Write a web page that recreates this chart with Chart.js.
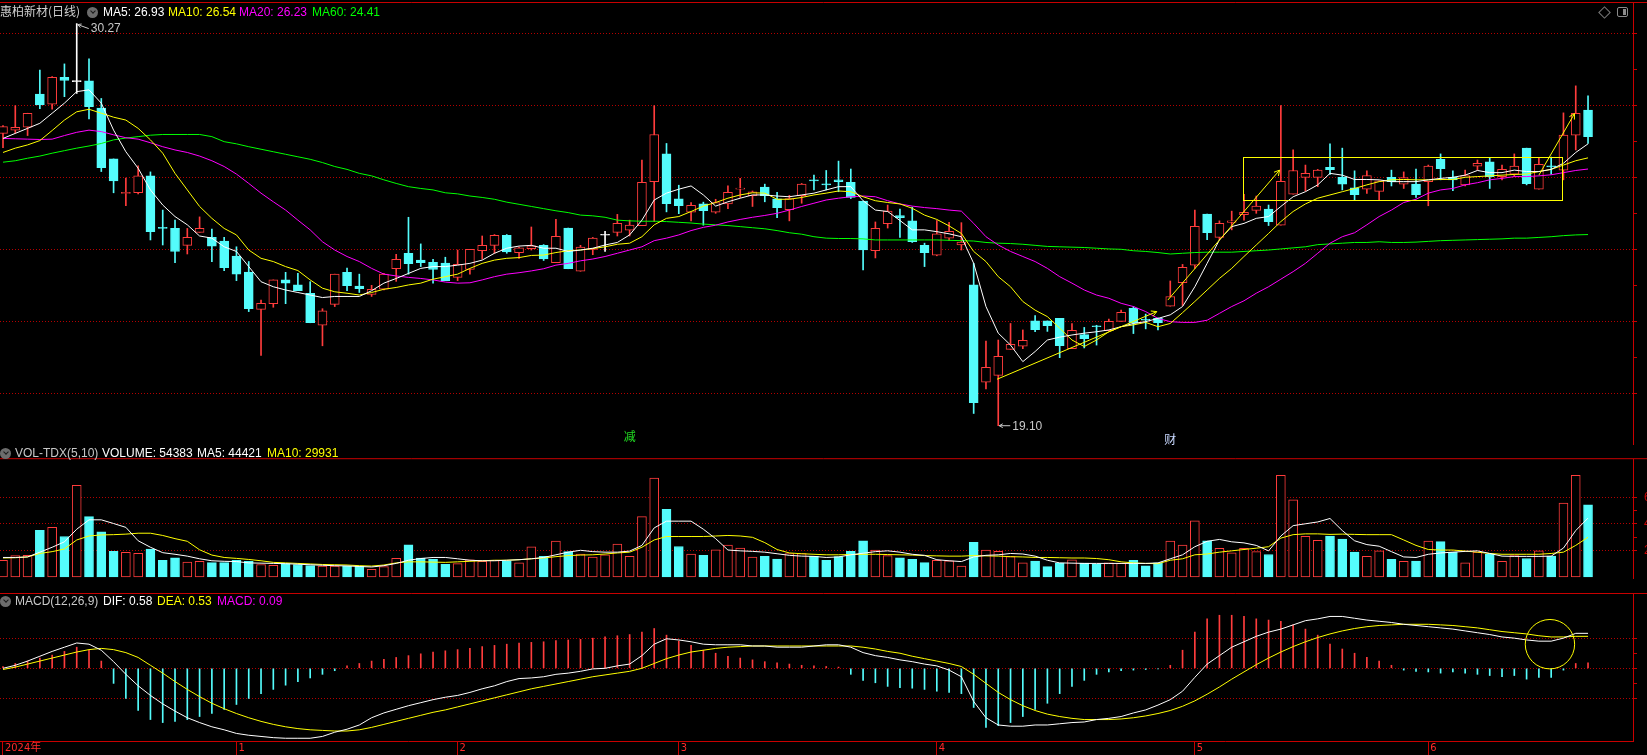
<!DOCTYPE html>
<html>
<head>
<meta charset="utf-8">
<title>惠柏新材(日线)</title>
<script src="https://cdn.jsdelivr.net/npm/chart.js@4.4.1/dist/chart.umd.min.js"></script>
<style>
  html, body { margin: 0; padding: 0; background: #000; overflow: hidden; }
  #board { position: relative; width: 1647px; height: 755px; background: #000; }
  #board canvas { position: absolute; left: 0; }
  .txt { position: absolute; font: 12px 'Liberation Sans', Arial, sans-serif; line-height: 14px; white-space: nowrap; }
  .cjk { font-family: 'Noto Sans CJK SC', 'Liberation Sans', sans-serif; }
  .ico { position: absolute; width: 11px; height: 11px; border-radius: 50%; background: #6c6c6c; }
  .ico:after { content: ''; position: absolute; left: 3.5px; top: 2px; width: 3px; height: 3px;
               border-right: 1.5px solid #1a1a1a; border-bottom: 1.5px solid #1a1a1a; transform: rotate(45deg); }
</style>
</head>
<body>
<div id="board">
  <canvas id="price" width="1647" height="445" style="top:0"></canvas>
  <canvas id="vol" width="1647" height="148" style="top:445px"></canvas>
  <canvas id="macd" width="1647" height="162" style="top:593px"></canvas>

  <div class="txt cjk" style="left:0;top:4px;color:#d0d0d0">惠柏新材(日线)</div>
  <div class="ico" style="left:87px;top:7px"></div>
  <div class="txt" id="lgMa5" style="left:103px;top:5px;color:#ffffff"></div>
  <div class="txt" id="lgMa10" style="left:168px;top:5px;color:#ffff00"></div>
  <div class="txt" id="lgMa20" style="left:239px;top:5px;color:#ff00ff"></div>
  <div class="txt" id="lgMa60" style="left:312px;top:5px;color:#00ff00"></div>
  <div style="position:absolute;left:1600px;top:8px;width:7px;height:7px;border:1px solid #7a7a7a;transform:rotate(45deg)"></div>
  <div style="position:absolute;left:1617px;top:7px;width:9px;height:8px;border:1.5px solid #8a8a8a;border-radius:2px">
    <div style="position:absolute;right:1px;top:1px;width:3px;height:6px;background:#8a8a8a"></div>
  </div>

  <div class="ico" style="left:0;top:448px"></div>
  <div class="txt" style="left:15px;top:446px;color:#c8c8c8">VOL-TDX(5,10)</div>
  <div class="txt" id="lgVol" style="left:102px;top:446px;color:#ffffff"></div>
  <div class="txt" id="lgVma5" style="left:197px;top:446px;color:#ffffff"></div>
  <div class="txt" id="lgVma10" style="left:267px;top:446px;color:#ffff00"></div>

  <div class="ico" style="left:0;top:596px"></div>
  <div class="txt" style="left:15px;top:594px;color:#c8c8c8">MACD(12,26,9)</div>
  <div class="txt" id="lgDif" style="left:103px;top:594px;color:#ffffff"></div>
  <div class="txt" id="lgDea" style="left:157px;top:594px;color:#ffff00"></div>
  <div class="txt" id="lgMacd" style="left:217px;top:594px;color:#ff00ff"></div>
</div>

<script>
// ---- daily candles ----
const opens = [
  27.22,27.31,27.39,28.31,28.03,28.78,28.66,28.68,27.92,26.51,
  25.55,25.57,26.04,24.60,24.58,24.11,24.47,24.33,24.23,23.81,
  23.37,22.33,22.49,23.15,23.01,22.78,21.89,22.47,23.36,22.98,
  22.75,22.89,23.46,23.89,23.70,23.64,23.62,23.22,23.44,23.96,
  24.11,24.39,23.91,24.02,24.11,23.63,24.59,23.39,24.00,24.39,
  24.47,24.53,24.66,25.88,26.65,25.40,25.03,25.26,25.03,25.26,
  25.67,25.49,25.73,25.40,25.10,25.49,25.92,25.80,25.93,25.86,
  25.34,23.96,24.71,24.94,24.79,24.11,23.84,24.31,24.12,23.01,
  20.31,20.50,21.22,21.31,22.01,22.01,22.08,21.24,21.63,21.87,
  21.74,22.00,22.36,22.05,22.08,22.42,23.07,23.56,24.98,24.33,
  24.75,24.96,25.08,25.12,24.67,25.53,26.00,26.00,26.28,26.00,
  25.71,25.67,25.61,26.00,25.81,25.81,25.88,26.50,26.00,25.79,
  26.31,26.43,26.02,26.09,26.81,25.67,26.31,26.20,27.17,27.87];
const highs = [
  27.44,27.99,27.78,28.98,28.80,29.15,30.27,29.29,28.19,26.51,
  25.98,26.32,26.15,25.09,24.81,24.58,24.90,24.56,24.33,24.07,
  23.66,22.59,23.15,23.36,23.33,23.10,22.35,23.31,23.48,23.31,
  23.00,23.33,23.86,24.89,24.15,23.72,23.78,23.98,24.00,24.37,
  24.41,24.41,24.06,24.62,24.13,24.83,24.59,24.11,24.33,24.50,
  24.97,24.81,26.48,27.99,26.94,25.78,25.30,25.31,25.39,25.76,
  25.97,25.62,25.81,25.58,25.50,25.83,26.06,26.19,26.45,26.23,
  25.34,24.76,25.23,25.12,25.17,24.17,24.80,24.75,24.74,23.61,
  21.45,21.48,21.94,21.76,22.16,22.01,22.08,21.94,21.83,21.89,
  22.06,22.31,22.41,22.20,22.10,23.12,23.58,25.09,24.98,24.79,
  25.06,25.53,25.48,25.23,27.99,26.76,26.34,26.22,26.93,26.81,
  26.18,26.18,25.90,26.20,26.15,26.23,26.34,26.65,26.18,26.20,
  26.48,26.54,26.34,26.65,26.81,26.54,26.56,27.79,28.54,28.26];
const lows = [
  26.82,27.22,27.16,27.91,27.89,28.24,28.33,27.62,26.16,25.57,
  25.21,25.54,24.26,24.12,23.63,23.87,24.47,23.66,23.41,23.13,
  22.27,21.05,22.39,22.49,22.85,21.96,21.32,22.41,22.85,22.80,
  22.69,22.87,23.11,23.31,23.52,23.06,23.13,23.13,23.31,23.73,
  23.89,23.89,23.75,23.98,23.69,23.63,23.46,23.39,23.85,23.94,
  24.37,24.37,24.66,24.77,25.04,24.99,24.79,24.67,25.00,25.13,
  25.44,25.19,25.32,24.88,24.79,25.28,25.65,25.65,25.60,25.41,
  23.43,23.76,24.59,24.33,24.19,23.52,23.82,24.25,23.98,19.44,
  20.12,19.10,21.22,21.24,21.71,21.72,20.99,21.24,21.26,21.34,
  21.74,22.00,21.66,21.79,21.76,22.42,22.44,23.47,24.27,24.27,
  24.54,24.81,25.00,24.66,24.67,25.53,25.62,25.74,26.08,25.65,
  25.37,25.55,25.37,25.76,25.69,25.44,25.21,25.93,25.63,25.76,
  26.20,25.69,25.93,26.02,25.79,25.67,26.09,25.93,26.76,26.94];
const closes = [
  27.41,27.39,27.78,28.01,28.78,28.69,28.66,27.96,26.27,25.90,
  25.58,26.04,24.49,24.58,23.94,24.33,24.58,24.09,23.49,23.31,
  22.35,22.50,23.15,23.06,22.85,21.96,22.29,23.31,22.99,22.91,
  22.89,23.31,23.72,23.60,23.63,23.44,23.13,23.58,24.00,24.11,
  24.39,23.93,24.04,24.10,23.73,24.36,23.46,24.06,24.31,24.39,
  24.72,24.67,25.86,27.19,25.27,25.21,25.22,25.07,25.30,25.58,
  25.70,25.60,25.49,25.16,25.41,25.81,25.90,25.79,25.88,25.44,
  23.98,24.58,25.06,24.88,24.21,23.91,24.43,24.50,24.20,19.74,
  20.72,21.03,21.36,21.47,21.77,21.88,21.32,21.75,21.52,21.85,
  22.00,22.25,21.95,22.03,21.96,22.69,23.50,24.64,24.46,24.72,
  24.79,25.03,25.20,24.77,25.89,26.19,26.11,26.20,26.21,25.81,
  25.52,26.05,25.90,25.88,25.99,25.52,26.31,26.24,25.93,26.05,
  26.39,26.02,26.22,26.31,25.82,26.36,26.29,27.17,27.78,27.13];

// moving averages as drawn
const ma5 = [
  27.08,27.22,27.36,27.50,27.78,28.06,28.38,28.43,28.06,27.31,
  26.71,26.25,25.65,25.23,24.91,24.68,24.37,24.31,24.07,23.94,
  23.52,23.10,22.96,22.87,22.80,22.73,22.66,22.69,22.69,22.69,
  22.85,23.06,23.19,23.33,23.47,23.52,23.52,23.56,23.61,23.70,
  23.89,24.03,24.09,24.11,24.03,24.03,23.94,23.98,24.03,24.12,
  24.19,24.40,24.81,25.37,25.56,25.67,25.76,25.51,25.20,25.32,
  25.42,25.51,25.51,25.48,25.46,25.51,25.56,25.65,25.74,25.74,
  25.35,25.09,25.05,24.80,24.54,24.54,24.49,24.43,24.35,23.61,
  22.41,21.67,21.34,20.88,21.16,21.48,21.56,21.62,21.67,21.71,
  21.76,21.85,21.94,21.99,22.08,22.18,22.41,22.96,23.61,24.26,
  24.63,24.72,24.86,24.91,25.19,25.46,25.60,25.79,26.11,26.06,
  25.94,25.94,25.93,25.88,25.88,25.88,25.93,25.97,26.00,26.06,
  26.19,26.13,26.13,26.20,26.16,26.16,26.22,26.39,26.69,26.93];
const ma10 = [
  26.69,26.81,26.90,27.02,27.30,27.59,27.82,27.89,27.78,27.67,
  27.59,27.36,27.04,26.67,26.11,25.65,25.19,24.86,24.58,24.40,
  23.98,23.75,23.66,23.52,23.41,23.15,22.92,22.82,22.78,22.73,
  22.80,22.89,22.94,23.01,23.06,23.17,23.24,23.31,23.47,23.61,
  23.70,23.75,23.77,23.83,23.84,23.91,23.96,23.98,24.02,24.07,
  24.14,24.17,24.35,24.68,24.86,24.91,25.05,25.20,25.30,25.42,
  25.51,25.57,25.56,25.39,25.39,25.44,25.51,25.56,25.62,25.60,
  25.46,25.35,25.30,25.26,25.14,24.95,24.83,24.65,24.44,23.94,
  23.66,23.24,22.96,22.55,22.31,22.13,21.81,21.48,21.30,21.48,
  21.71,21.85,21.90,21.97,21.85,21.94,22.24,22.55,22.87,23.19,
  23.47,23.80,24.12,24.44,24.77,25.05,25.26,25.42,25.51,25.60,
  25.69,25.79,25.88,25.93,25.94,25.93,25.93,25.94,25.94,26.00,
  26.02,26.04,26.06,26.08,26.09,26.16,26.22,26.34,26.46,26.54];
const ma20 = [
  27.08,27.07,27.06,27.05,27.06,27.16,27.25,27.31,27.27,27.18,
  27.10,27.06,26.96,26.85,26.76,26.69,26.59,26.46,26.30,26.09,
  25.83,25.56,25.32,25.09,24.81,24.54,24.21,23.98,23.80,23.66,
  23.47,23.31,23.26,23.22,23.19,23.15,23.09,23.06,23.07,23.15,
  23.24,23.31,23.35,23.40,23.46,23.56,23.61,23.68,23.73,23.80,
  23.89,23.98,24.07,24.24,24.31,24.40,24.52,24.61,24.67,24.76,
  24.83,24.89,24.94,25.00,25.09,25.19,25.28,25.37,25.42,25.46,
  25.48,25.46,25.35,25.26,25.20,25.16,25.13,25.09,25.06,24.72,
  24.35,24.12,23.94,23.80,23.66,23.47,23.24,23.06,22.87,22.73,
  22.64,22.50,22.41,22.27,22.08,21.99,21.97,21.97,22.03,22.22,
  22.41,22.57,22.78,22.96,23.17,23.38,23.61,23.89,24.17,24.35,
  24.46,24.68,24.91,25.09,25.30,25.39,25.56,25.65,25.69,25.79,
  25.85,25.93,25.97,26.02,26.02,26.04,26.07,26.13,26.19,26.23];
const ma60 = [
  26.42,26.46,26.53,26.59,26.67,26.74,26.81,26.87,26.94,27.04,
  27.09,27.13,27.17,27.19,27.19,27.19,27.19,27.13,26.99,26.93,
  26.85,26.78,26.71,26.64,26.57,26.50,26.41,26.30,26.22,26.11,
  26.04,25.93,25.83,25.74,25.69,25.65,25.57,25.54,25.48,25.44,
  25.39,25.31,25.25,25.19,25.13,25.07,25.02,24.95,24.93,24.89,
  24.81,24.79,24.78,24.78,24.77,24.75,24.73,24.70,24.68,24.66,
  24.63,24.60,24.57,24.52,24.46,24.42,24.35,24.31,24.30,24.30,
  24.29,24.26,24.26,24.26,24.26,24.26,24.26,24.25,24.24,24.23,
  24.19,24.17,24.16,24.14,24.11,24.08,24.07,24.06,24.05,24.03,
  24.01,24.00,23.96,23.94,23.91,23.87,23.89,23.91,23.92,23.92,
  23.92,23.94,23.96,23.98,24.01,24.04,24.07,24.13,24.15,24.17,
  24.19,24.19,24.21,24.19,24.19,24.20,24.22,24.24,24.25,24.26,
  24.27,24.28,24.29,24.31,24.31,24.33,24.35,24.38,24.40,24.41];

// volume (shares) and its averages
const volumes = [
  12600,16100,16300,35200,37400,30500,69100,45500,34000,19300,
  18500,17900,21100,12600,14400,11200,11800,10800,10800,12600,
  11800,9400,8800,10000,9400,8500,8200,8200,8200,8200,
  5700,7800,14100,24200,14200,13200,9600,10000,13000,11800,
  12600,12200,10600,22800,15600,27000,19100,17300,15000,16700,
  24800,15600,45500,74600,51000,23000,17300,16300,20400,24000,
  21800,15000,15600,13400,17700,17700,15600,12600,15300,19300,
  27300,20300,16100,14400,13200,10800,12600,12200,8200,26100,
  20300,19300,15300,10600,12000,7800,10400,13000,10400,9600,
  10600,10200,12600,8400,10600,27000,24000,42300,27300,21600,
  18100,21600,19100,16900,76600,58100,30700,27600,30900,28500,
  18700,15500,19700,13200,11800,12000,27000,26600,18700,10600,
  18700,17300,11800,16100,13900,19700,15700,55720,76600,54383];
const volMa5 = [
  14700,14700,15100,18700,22400,26500,36000,43100,43100,40300,
  37400,27300,22400,18300,17100,15700,13700,12200,11800,11600,
  10600,10400,10200,10000,9600,9200,8800,8500,8300,7900,
  7500,8500,10200,12600,13900,14700,14700,13700,12600,12200,
  12200,12600,13000,13700,14700,16700,18700,20100,19100,18700,
  18700,19500,23800,37000,42100,42100,42100,36000,28900,20300,
  19700,19300,18700,17500,16300,15700,15500,14700,15100,16700,
  17900,19100,19700,18700,17100,16300,13000,12200,11600,15100,
  16300,16700,17700,17300,15700,12600,10600,10400,10200,10200,
  10200,10200,10200,10200,10600,13700,16700,22800,26900,28300,
  26500,25700,23800,19700,30900,38700,40100,41500,44100,35000,
  27300,24400,23200,19100,15100,14700,17100,18100,18700,19300,
  19700,17700,15700,15500,15500,15500,15700,21800,35000,44421];
const volMa10 = [
  14300,14500,15100,17700,19100,21100,27900,30900,31700,31900,
  32300,33000,33000,31300,28900,26900,20500,16500,14700,14000,
  13200,12200,11000,10600,10200,9800,9400,9200,9000,8500,
  8200,9000,10600,11400,11400,11200,11000,11400,11800,12200,
  12600,12600,13000,13700,14300,15300,16100,16500,16700,17300,
  18100,18700,22400,27900,30500,30500,30500,30500,30900,31300,
  30900,29900,25900,20700,18100,17500,17100,16700,16700,16900,
  17100,17100,16900,16700,16500,16100,15900,15700,15700,16100,
  15900,15700,15300,15100,14700,14700,14500,14300,14300,13900,
  13000,11400,10600,10200,10000,12600,13700,16700,17300,18700,
  19700,20700,21700,22800,29300,31900,32500,32500,32100,32300,
  32100,31900,31900,31900,27900,23800,20700,20300,20300,19500,
  18700,17700,17100,17100,17100,17100,17700,18700,23800,29931];

// MACD(12,26,9)
const dif = [
  0.00,0.05,0.12,0.20,0.28,0.35,0.42,0.40,0.30,0.11,
  -0.10,-0.29,-0.45,-0.59,-0.71,-0.82,-0.90,-0.97,-1.02,-1.08,
  -1.11,-1.13,-1.15,-1.16,-1.16,-1.16,-1.13,-1.06,-1.01,-0.94,
  -0.82,-0.74,-0.68,-0.62,-0.57,-0.52,-0.48,-0.45,-0.40,-0.34,
  -0.29,-0.22,-0.17,-0.16,-0.14,-0.10,-0.08,-0.05,-0.01,0.00,
  0.04,0.07,0.21,0.40,0.49,0.47,0.44,0.40,0.39,0.39,
  0.39,0.37,0.37,0.35,0.35,0.35,0.37,0.39,0.39,0.35,
  0.26,0.21,0.18,0.14,0.11,0.07,0.04,-0.03,-0.14,-0.55,
  -0.82,-0.94,-0.96,-0.96,-0.94,-0.94,-0.92,-0.90,-0.89,-0.85,
  -0.83,-0.80,-0.74,-0.69,-0.61,-0.52,-0.38,-0.15,0.07,0.21,
  0.35,0.44,0.53,0.60,0.65,0.72,0.79,0.82,0.86,0.86,
  0.83,0.80,0.78,0.76,0.73,0.71,0.69,0.67,0.65,0.62,
  0.59,0.56,0.52,0.50,0.47,0.45,0.45,0.50,0.58,0.58];
const dea = [
  -0.02,0.02,0.07,0.12,0.17,0.22,0.27,0.31,0.33,0.31,
  0.26,0.18,0.05,-0.08,-0.22,-0.35,-0.47,-0.58,-0.67,-0.75,
  -0.82,-0.88,-0.93,-0.97,-1.00,-1.02,-1.03,-1.04,-1.04,-1.02,
  -0.98,-0.93,-0.88,-0.83,-0.78,-0.73,-0.69,-0.64,-0.59,-0.54,
  -0.49,-0.44,-0.39,-0.34,-0.30,-0.26,-0.22,-0.18,-0.14,-0.11,
  -0.08,-0.05,0.00,0.08,0.16,0.22,0.27,0.30,0.33,0.35,
  0.36,0.37,0.37,0.37,0.37,0.37,0.37,0.37,0.37,0.37,
  0.35,0.32,0.28,0.25,0.20,0.16,0.12,0.08,0.03,-0.10,
  -0.25,-0.40,-0.52,-0.62,-0.70,-0.76,-0.80,-0.83,-0.85,-0.85,
  -0.85,-0.84,-0.82,-0.79,-0.75,-0.70,-0.63,-0.54,-0.43,-0.31,
  -0.18,-0.06,0.06,0.17,0.27,0.36,0.44,0.51,0.57,0.62,
  0.66,0.69,0.71,0.72,0.73,0.73,0.73,0.72,0.71,0.69,
  0.67,0.64,0.61,0.59,0.57,0.54,0.52,0.52,0.53,0.53];
const macdBars = [
  0.03,0.08,0.12,0.17,0.22,0.28,0.35,0.30,0.12,-0.25,
  -0.50,-0.70,-0.85,-0.90,-0.88,-0.85,-0.80,-0.75,-0.68,-0.60,
  -0.50,-0.42,-0.35,-0.28,-0.22,-0.16,-0.10,-0.04,0.04,0.08,
  0.12,0.15,0.18,0.21,0.24,0.27,0.29,0.31,0.33,0.36,
  0.38,0.40,0.42,0.43,0.44,0.46,0.47,0.48,0.50,0.52,
  0.54,0.56,0.60,0.66,0.55,0.45,0.38,0.30,0.25,0.20,
  0.17,0.14,0.11,0.09,0.07,0.05,0.04,0.03,0.02,-0.10,
  -0.20,-0.24,-0.30,-0.32,-0.33,-0.35,-0.38,-0.40,-0.42,-0.65,
  -0.98,-0.95,-0.90,-0.80,-0.68,-0.58,-0.42,-0.30,-0.20,-0.10,
  -0.06,-0.04,-0.03,-0.02,-0.01,0.05,0.30,0.60,0.82,0.88,
  0.88,0.86,0.82,0.80,0.78,0.72,0.65,0.55,0.40,0.32,
  0.25,0.18,0.12,0.05,-0.03,-0.05,-0.06,-0.08,-0.06,-0.08,
  -0.10,-0.12,-0.14,-0.12,-0.18,-0.15,-0.15,-0.03,0.08,0.09];

// axis ticks and labels
const monthIdx = [0, 19, 37, 55, 76, 97, 116];
const monthLabels = ['2024年', '1', '2', '3', '4', '5', '6'];
const priceTicks = [20, 21, 22, 23, 24, 25, 26, 27, 28, 29, 30];
const volTicks = [20000, 30000, 40000, 50000, 60000];
const macdTicks = [-0.5, -0.25, 0, 0.25, 0.5];

// hand drawn marks on the chart (candle index / price)
const zoneBox = [100.9, 126.9, 25.36, 26.56];
const trendArrows = [[80.9, 20.39, 93.9, 22.27], [94.8, 22.59, 103.9, 26.20], [125.0, 26.06, 127.9, 27.77]];
const newsMarks = [[51, '减'], [95, '财']];
const macdCircle = [125.9, 0.40];

const UP = '#ff3c3c', DOWN = '#54fcfc', FLAT = '#ffffff';
const AXIS = '#c80000', GRID = '#b40000';
const X_MIN = -0.244, X_MAX = 132.66;
const last = closes.length - 1;

Chart.defaults.font.family = "'Liberation Sans', Arial, sans-serif";

function pts(arr) {
    return arr.map((v, i) => ({x: i, y: v}));
}

function lineSet(arr, color) {
    return {type: 'line', order: 0, data: pts(arr), borderColor: color, borderWidth: 1,
            pointRadius: 0, tension: 0};
}

function arrow(ctx, x1, y1, x2, y2, len) {
    const a = Math.atan2(y2 - y1, x2 - x1);
    ctx.beginPath();
    ctx.moveTo(x1, y1);
    ctx.lineTo(x2, y2);
    ctx.moveTo(x2 - len * Math.cos(a - 0.5), y2 - len * Math.sin(a - 0.5));
    ctx.lineTo(x2, y2);
    ctx.lineTo(x2 - len * Math.cos(a + 0.5), y2 - len * Math.sin(a + 0.5));
    ctx.stroke();
}

function hiddenX() {
    return {type: 'linear', min: X_MIN, max: X_MAX, offset: false, display: false, grid: {offset: false}};
}

function rightAxis(min, max, tickVals, gridOn, labels) {
    return {
        position: 'right', min: min, max: max,
        afterFit: s => { s.width = 14; },
        afterBuildTicks: s => { s.ticks = tickVals.map(v => ({value: v})); },
        grid: {
            color: c => (c.tick && gridOn(c.tick.value)) ? GRID : 'rgba(0,0,0,0)',
            tickColor: AXIS, tickLength: 4, drawTicks: true
        },
        border: {display: true, color: AXIS, dash: [1, 2]},
        ticks: labels ? {color: AXIS, padding: 7, font: {size: 12}, callback: labels} : {display: false}
    };
}

// red line along the top of each panel
const panelFrame = {
    id: 'panelFrame',
    afterDraw(chart) {
        const ctx = chart.ctx;
        const y = Math.max(chart.chartArea.top - 0.5, 0.5);
        ctx.save();
        ctx.strokeStyle = AXIS;
        ctx.lineWidth = 1;
        ctx.beginPath();
        ctx.moveTo(0, y);
        ctx.lineTo(chart.width, y);
        ctx.stroke();
        ctx.restore();
    }
};

const priceMarks = {
    id: 'priceMarks',
    afterDatasetsDraw(chart) {
        const {ctx, chartArea} = chart;
        const x = chart.scales.x, y = chart.scales.y;
        ctx.save();
        ctx.strokeStyle = '#ffff00';
        ctx.lineWidth = 1;
        const bx1 = Math.round(x.getPixelForValue(zoneBox[0])) + 0.5;
        const bx2 = Math.round(x.getPixelForValue(zoneBox[1])) + 0.5;
        const by1 = Math.round(y.getPixelForValue(zoneBox[3])) + 0.5;
        const by2 = Math.round(y.getPixelForValue(zoneBox[2])) + 0.5;
        ctx.strokeRect(bx1, by1, bx2 - bx1, by2 - by1);
        trendArrows.forEach(a => arrow(ctx, x.getPixelForValue(a[0]), y.getPixelForValue(a[1]),
                                        x.getPixelForValue(a[2]), y.getPixelForValue(a[3]), 6));

        // highest / lowest price tags
        const hi = highs.indexOf(Math.max(...highs));
        const lo = lows.indexOf(Math.min(...lows));
        ctx.strokeStyle = '#c8c8c8';
        ctx.fillStyle = '#c8c8c8';
        ctx.font = "12px 'Liberation Sans', Arial, sans-serif";
        ctx.textAlign = 'left';
        ctx.textBaseline = 'middle';
        let px = x.getPixelForValue(hi), py = y.getPixelForValue(highs[hi]);
        arrow(ctx, px + 12, py + 5, px + 1, py + 1, 4);
        ctx.fillText(highs[hi].toFixed(2), px + 14, py + 5);
        px = x.getPixelForValue(lo);
        py = y.getPixelForValue(lows[lo]);
        arrow(ctx, px + 12, py, px + 1, py, 4);
        ctx.fillText(lows[lo].toFixed(2), px + 14, py + 1);

        // info markers under the candles
        ctx.font = "12px 'Noto Sans CJK SC', sans-serif";
        ctx.textAlign = 'center';
        newsMarks.forEach((m, k) => {
            ctx.fillStyle = k === 0 ? '#22dd22' : '#c8d8ff';
            ctx.fillText(m[1], x.getPixelForValue(m[0]), chartArea.bottom - (k === 0 ? 9 : 6));
        });
        ctx.restore();
    }
};

const macdMarks = {
    id: 'macdMarks',
    afterDatasetsDraw(chart) {
        const ctx = chart.ctx;
        ctx.save();
        ctx.strokeStyle = '#ffff00';
        ctx.lineWidth = 1;
        ctx.beginPath();
        ctx.arc(chart.scales.x.getPixelForValue(macdCircle[0]), chart.scales.y.getPixelForValue(macdCircle[1]),
                24.7, 0, Math.PI * 2);
        ctx.stroke();
        ctx.restore();
    }
};

const candleColor = closes.map((c, i) => c > opens[i] ? UP : (c < opens[i] ? DOWN : FLAT));
const volUp = closes.map((c, i) => c >= opens[i]);

const common = {
    responsive: false,
    animation: false,
    devicePixelRatio: 1,
    plugins: {legend: {display: false}, tooltip: {enabled: false}}
};

new Chart(document.getElementById('price'), {
    type: 'bar',
    data: {
        datasets: [
            lineSet(ma5, '#ffffff'),
            lineSet(ma10, '#ffff00'),
            lineSet(ma20, '#ff00ff'),
            lineSet(ma60, '#00ff00'),
            {
                type: 'bar', order: 1, grouped: false, barThickness: 9, minBarLength: 1,
                data: opens.map((o, i) => ({x: i, y: [o, closes[i]]})),
                backgroundColor: candleColor.map(c => c === UP ? '#000000' : c),
                borderColor: candleColor, borderWidth: 1, borderSkipped: false
            },
            {
                type: 'bar', order: 2, grouped: false, barThickness: 1,
                data: lows.map((l, i) => ({x: i, y: [l, highs[i]]})),
                backgroundColor: candleColor, borderWidth: 0
            }
        ]
    },
    options: Object.assign({}, common, {
        layout: {padding: {top: 3, left: 0, right: 0, bottom: 0}},
        scales: {
            x: hiddenX(),
            y: rightAxis(18.564, 30.842, priceTicks, v => v % 2 === 0, null)
        }
    }),
    plugins: [panelFrame, priceMarks]
});

new Chart(document.getElementById('vol'), {
    type: 'bar',
    data: {
        datasets: [
            lineSet(volMa5, '#ffffff'),
            lineSet(volMa10, '#ffff00'),
            {
                type: 'bar', order: 1, grouped: false, barThickness: 9,
                data: pts(volumes),
                backgroundColor: volUp.map(u => u ? '#000000' : DOWN),
                borderColor: volUp.map(u => u ? UP : DOWN), borderWidth: 1, borderSkipped: false
            }
        ]
    },
    options: Object.assign({}, common, {
        layout: {padding: 0},
        scales: {
            x: hiddenX(),
            y: rightAxis(-1404, 88840, volTicks, v => v % 20000 === 0,
                         v => (v % 20000 === 0 ? String(v) : ''))
        }
    }),
    plugins: [panelFrame]
});

new Chart(document.getElementById('macd'), {
    type: 'bar',
    data: {
        datasets: [
            lineSet(dif, '#ffffff'),
            lineSet(dea, '#ffff00'),
            {
                type: 'bar', order: 1, grouped: false, barThickness: 1,
                data: pts(macdBars),
                backgroundColor: macdBars.map(v => v >= 0 ? UP : DOWN), borderWidth: 0
            }
        ]
    },
    options: Object.assign({}, common, {
        layout: {padding: 0},
        scales: {
            x: {
                type: 'linear', min: X_MIN, max: X_MAX, offset: false, position: 'bottom',
                afterFit: s => { s.height = 14; },
                afterBuildTicks: s => { s.ticks = monthIdx.map(v => ({value: v})); },
                grid: {drawOnChartArea: false, drawTicks: true, tickLength: 14, offset: false,
                       color: AXIS, tickColor: AXIS},
                border: {display: true, color: AXIS},
                ticks: {
                    autoSkip: false, maxRotation: 0, align: 'start', padding: -13, labelOffset: 2,
                    color: '#ff2a2a',
                    font: {size: 11, family: "'Liberation Sans Narrow', 'DejaVu Sans Condensed', 'Noto Sans CJK SC', sans-serif"},
                    callback: v => {
                        const k = monthIdx.indexOf(v);
                        return k < 0 ? '' : monthLabels[k];
                    }
                }
            },
            y: rightAxis(-1.2056, 1.2488, macdTicks, v => Math.abs(v % 0.5) < 1e-9, null)
        }
    }),
    plugins: [panelFrame, macdMarks]
});

// legend values come from the last bar
document.getElementById('lgMa5').textContent = 'MA5: ' + ma5[last].toFixed(2);
document.getElementById('lgMa10').textContent = 'MA10: ' + ma10[last].toFixed(2);
document.getElementById('lgMa20').textContent = 'MA20: ' + ma20[last].toFixed(2);
document.getElementById('lgMa60').textContent = 'MA60: ' + ma60[last].toFixed(2);
document.getElementById('lgVol').textContent = 'VOLUME: ' + volumes[last];
document.getElementById('lgVma5').textContent = 'MA5: ' + volMa5[last];
document.getElementById('lgVma10').textContent = 'MA10: ' + volMa10[last];
document.getElementById('lgDif').textContent = 'DIF: ' + dif[last].toFixed(2);
document.getElementById('lgDea').textContent = 'DEA: ' + dea[last].toFixed(2);
document.getElementById('lgMacd').textContent = 'MACD: ' + macdBars[last].toFixed(2);
</script>
</body>
</html>
